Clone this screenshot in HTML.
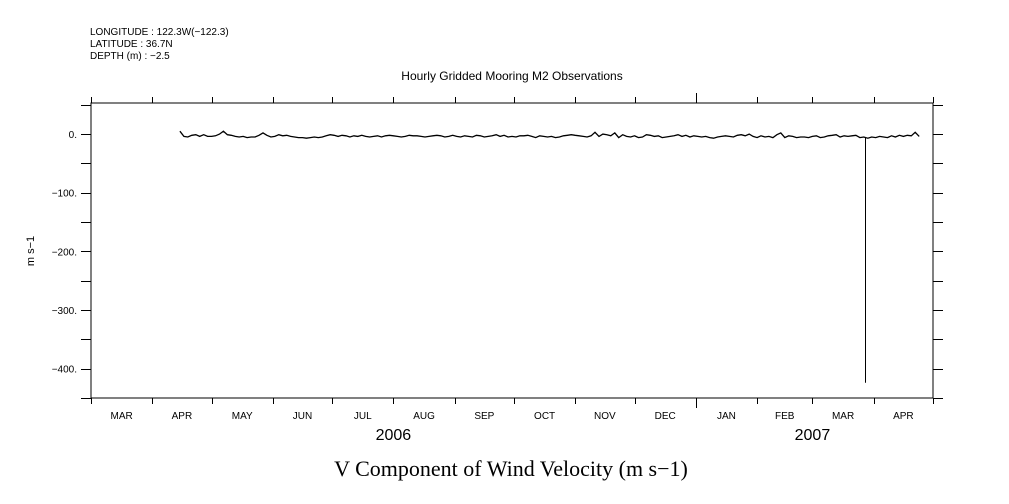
<!DOCTYPE html>
<html><head><meta charset="utf-8">
<style>
html,body{margin:0;padding:0;background:#fff;}
svg{display:block;font-family:"Liberation Sans",sans-serif;}
</style></head>
<body>
<svg id="chart" width="1009" height="504" viewBox="0 0 1009 504" xmlns="http://www.w3.org/2000/svg">
<g font-size="10" fill="#000">
<text x="90" y="35">LONGITUDE : 122.3W(−122.3)</text>
<text x="90" y="47">LATITUDE : 36.7N</text>
<text x="90" y="59">DEPTH (m) : −2.5</text>
</g>
<text x="512" y="80" font-size="12" text-anchor="middle">Hourly Gridded Mooring M2 Observations</text>
<text transform="translate(34,251) rotate(-90)" font-size="11" text-anchor="middle">m s−1</text>
<text x="511" y="476" font-family="Liberation Serif,serif" font-size="22" text-anchor="middle">V Component of Wind Velocity (m s−1)</text>
<rect x="91" y="103" width="842" height="295" fill="none" stroke="#000" stroke-width="1"/>
<g id="axes"></g>
<path id="series" fill="none" stroke="#000" stroke-width="1.3"/>
<g id="spikes"></g>
</svg>
<script>
// x in days since 2006-03-01, y in m s-1
const monthLabels = ["MAR","APR","MAY","JUN","JUL","AUG","SEP","OCT","NOV","DEC","JAN","FEB","MAR","APR"];
const monthStartDays = [0,31,61,92,122,153,184,214,245,275,306,337,365,396,426];
const yearLabels = ["2006","2007"];
const yearCenterDays = [153,365];
const yTicks = [50,0,-50,-100,-150,-200,-250,-300,-350,-400,-450];
const yLabels = ["0.","-100.","-200.","-300.","-400."];
const yLabelValues = [0,-100,-200,-300,-400];
const seriesStartDay = 45;
const seriesStepDays = 2;
const vValues = [
5,-4,-5,-2,-1,-4,-1,-4,-4,-3,0,5,-1,-2,-4,-5,-4,-6,-5,-5,
-2,2,-2,-5,-4,-1,-3,-2,-4,-5,-6,-6,-7,-6,-5,-6,-5,-3,-1,-2,
-4,-2,-3,-5,-3,-4,-2,-4,-5,-4,-3,-5,-3,-2,-3,-4,-5,-4,-2,-3,
-3,-4,-5,-4,-3,-2,-3,-5,-4,-2,-4,-5,-3,-4,-5,-2,-3,-5,-4,-3,
-1,-4,-2,-5,-4,-5,-3,-3,-2,-4,-6,-3,-4,-5,-4,-6,-5,-3,-2,-1,
-2,-3,-4,-5,-3,3,-4,0,-1,-3,2,-6,-1,-4,-5,-3,-6,-5,-1,-2,
-4,-3,-6,-5,-4,-3,-1,-4,-2,-5,-3,-4,-5,-4,-6,-7,-5,-4,-3,-4,
-5,-2,-1,-3,0,-4,-6,-3,-5,-4,-6,-1,2,-6,-3,-4,-6,-5,-5,-6,
-4,-3,-6,-5,-3,-2,-1,-5,-3,-4,-3,-2,-6,-5,-7,-5,-6,-4,-5,-6,
-3,-5,-2,-4,-2,-3,3,-4
];
const spikeDays = [391.5];
const spikeValues = [-424];
const xMin=0,xMax=426,yMin=-450,yMax=53;
const L=91,R=933,T=103,B=398;
function xs(d){return L+(d-xMin)/(xMax-xMin)*(R-L);}
function ys(v){return B-(v-yMin)/(yMax-yMin)*(B-T);}
const NS="http://www.w3.org/2000/svg";
const ax=document.getElementById('axes');
function line(x1,y1,x2,y2,name,parent){const l=document.createElementNS(NS,'line');
l.setAttribute('x1',x1);l.setAttribute('y1',y1);l.setAttribute('x2',x2);l.setAttribute('y2',y2);
l.setAttribute('stroke','#000');l.setAttribute('stroke-width','1');


(parent||ax).appendChild(l);return l;}
function text(x,y,s,anchor,size,name,fam){const t=document.createElementNS(NS,'text');
t.setAttribute('x',x);t.setAttribute('y',y);t.setAttribute('text-anchor',anchor);t.setAttribute('font-size',size);
if(fam)t.setAttribute('font-family',fam);
t.textContent=s;


ax.appendChild(t);return t;}
monthStartDays.forEach((d,i)=>{const x=Math.round(xs(d))+0.5;const big=(d===306);
line(x,B,x,B+(big?10:6),'x-tick-bottom');line(x,T,x,T-(big?10:6),'x-tick-top');});
monthLabels.forEach((m,i)=>{const c=xs((monthStartDays[i]+monthStartDays[i+1])/2);
text(c,419,m,'middle',10,'x-month-label');});
yearLabels.forEach((y,i)=>{text(xs(yearCenterDays[i]),440,y,'middle',16,'x-year-label');});
yTicks.forEach(v=>{const y=Math.round(ys(v))+0.5;line(L-10,y,L,y,'y-tick-left');line(R,y,R+10,y,'y-tick-right');});
yLabelValues.forEach((v,i)=>{text(77,ys(v)+4,yLabels[i].replace('-','−'),'end',10,'y-tick-label');});
let dstr='';
vValues.forEach((v,i)=>{const x=xs(seriesStartDay+i*seriesStepDays),y=ys(v);dstr+=(i?'L':'M')+x.toFixed(1)+','+y.toFixed(1);});
document.getElementById('series').setAttribute('d',dstr);
const sp=document.getElementById('spikes');
spikeDays.forEach((d,i)=>{const x=Math.round(xs(d))+0.5;
const idx=Math.round((d-seriesStartDay)/seriesStepDays);
line(x,ys(vValues[idx]),x,ys(spikeValues[i]),'spike-mark',sp);});
</script>
</body></html>
